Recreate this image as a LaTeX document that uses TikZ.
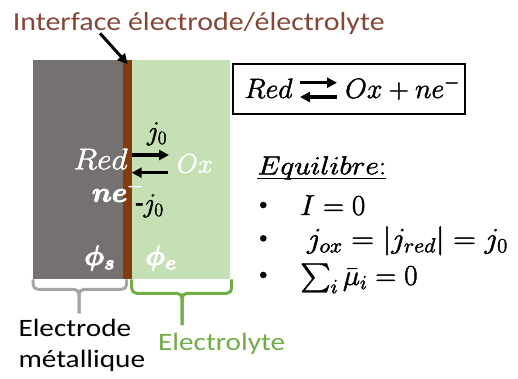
\RequirePackage{fix-cm}
\documentclass[tikz,border=0pt]{standalone}
\usepackage[no-math]{fontspec}
\setmainfont{Carlito}
\usepackage{bm}
\usepackage{graphicx}
\usetikzlibrary{arrows.meta,calc}
\DeclareFontFamily{OMX}{cmex}{}
\DeclareFontShape{OMX}{cmex}{m}{n}{<-> cmex10}{}
\definecolor{elgrey}{HTML}{767171}
\definecolor{elbrown}{HTML}{843C0C}
\definecolor{elgreen}{HTML}{C5E0B4}
\definecolor{titlebrown}{HTML}{854637}
\definecolor{lygreen}{HTML}{70AD47}
\definecolor{bracegrey}{HTML}{A5A5A5}
\newcommand{\hs}[2][1.15]{\scalebox{#1}[1]{#2}}
\newcommand{\fs}[1]{\fontsize{#1}{#1}\selectfont}
\newcommand{\heavy}[2][0.45]{\special{pdf:literal direct 2 Tr #1 w}#2\special{pdf:literal direct 0 Tr 0.4 w}}
\begin{document}
\begin{tikzpicture}[x=1pt,y=-1pt,
  lbl/.style={inner sep=0pt, anchor=base west},
  thickarrow/.style={line width=3.5pt, -{Triangle[length=10pt,width=10pt]}},
  brace/.style={line width=3pt, rounded corners=5pt}]
\useasboundingbox (0,0) rectangle (518,378);
% slabs
\fill[elgrey] (32.7,60) rectangle (123.3,279.3);
\fill[elgreen] (131.7,60) rectangle (230,279.3);
\fill[elbrown] (123.3,60) rectangle (131.7,279.3);
% title and arrow
\node[lbl, text=titlebrown] (title) at (12.7,30) {\fs{26}\hs{Interface électrode/électrolyte}};
\coordinate (ta) at (100,33.3);
\coordinate (tb) at (127.7,64);
\draw[line width=3pt,-{Triangle[length=10pt,width=10pt]}] (ta) -- (tb);
% reaction box
\draw[line width=2pt] (233.3,64) rectangle (465,114);
\node[lbl] (bred) at (244.3,98) {\fs{28}\heavy{$Red$}};
\node[lbl] (box) at (345,98) {\fs{28}\heavy{$Ox+ne^{-}$}};
\coordinate (ba1) at (300,82.7);
\coordinate (ba2) at (337,82.7);
\coordinate (ba3) at (337,97);
\coordinate (ba4) at (300,97);
\draw[thickarrow] (ba1) -- (ba2);
\draw[thickarrow] (ba3) -- (ba4);
% interface labels
\node[lbl, text=white] (ired) at (73.3,169.3) {\fs{30}\hs[1.05]{\heavy{$Red$}}};
\coordinate (ia1) at (131.7,155);
\coordinate (ia2) at (169,155);
\coordinate (ia3) at (168,172.7);
\coordinate (ia4) at (131.7,172.7);
\draw[thickarrow] (ia1) -- (ia2);
\draw[thickarrow] (ia3) -- (ia4);
\node[lbl] (j0a) at (146.7,140) {\fs{27}\heavy{$j_0$}};
\node[lbl] (j0b) at (135,212) {\fs{27}\heavy{-$j_0$}};
\node[lbl, text=white] (ne) at (91.7,201.7) {\fs{28}\heavy[0.9]{$\bm{ne}^{-}$}};
\node[lbl, text=white] (ox) at (176.7,172.7) {\fs{27}\heavy{$Ox$}};
\node[lbl, text=white] (phis) at (84,265) {\fs{28}\heavy[0.9]{$\bm{\phi_s}$}};
\node[lbl, text=white] (phie) at (145,265) {\fs{28}\heavy[0.9]{$\bm{\phi_e}$}};
% equilibrium list
\node[lbl] (eq) at (257.3,174.3) {\fs{26}\hs[1.13]{\heavy{$Equilibre{:}$}}};
\draw[line width=1.3pt] ($(eq.base west)+(0,4)$) -- ($(eq.base east)+(0,4)$);
\fill (263.3,205) circle (3.3pt);
\fill (263.3,238.3) circle (3.3pt);
\fill (263.3,275) circle (3.3pt);
\node[lbl] (l1) at (300,215) {\fs{29}\heavy{$I=0$}};
\node[lbl] (l2) at (306.7,248) {\fs{29}\hs[1.08]{\heavy{$j_{ox}=|j_{red}|=j_0$}}};
\node[lbl] (l3) at (300,285) {\fs{29}\heavy{$\sum_i\bar{\mu}_i=0$}};
% braces
\draw[brace, bracegrey] (33,279.3) |- (79,289.3) -- (79,313.3);
\draw[brace, bracegrey] (126.7,279.3) |- (79,289.3) -- (79,313.3);
\draw[brace, lygreen] (131.7,279.3) |- (182,293.3) -- (182,325);
\draw[brace, lygreen] (231.7,279.3) |- (182,293.3) -- (182,325);
% bottom labels
\node[lbl] (e1) at (18.3,336) {\fs{25}\hs[1.17]{Electrode}};
\node[lbl] (e2) at (18.3,367.5) {\fs{25}\hs[1.17]{métallique}};
\node[lbl, text=lygreen] (e3) at (158,350.7) {\fs{25}\hs[1.17]{Electrolyte}};
\end{tikzpicture}
\end{document}
